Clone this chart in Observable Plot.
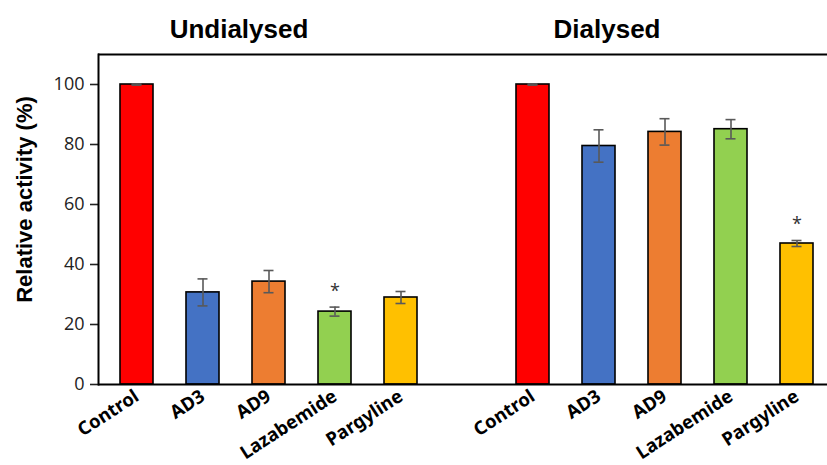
<!DOCTYPE html>
<html>
<head>
<meta charset="utf-8">
<script src="https://cdn.jsdelivr.net/npm/d3@7"></script>
<script src="https://cdn.jsdelivr.net/npm/@observablehq/plot@0.6"></script>
<style>
  html, body { margin: 0; padding: 0; background: #fff; }
</style>
</head>
<body>
<div id="chart"></div>
<script>
const groups = ["Undialysed", "Dialysed"];
const treatments = ["Control", "AD3", "AD9", "Lazabemide", "Pargyline"];
const undialysedMean = [100, 30.7, 34.3, 24.3, 29.0];
const undialysedErr  = [0.2, 4.5, 3.7, 1.5, 2.0];
const dialysedMean   = [100, 79.5, 84.2, 85.1, 47.0];
const dialysedErr    = [0.2, 5.4, 4.4, 3.2, 1.0];
const undialysedStar = [false, false, false, true, false];
const dialysedStar   = [false, false, false, false, true];
const barColors = ["#FF0000", "#4472C4", "#ED7D31", "#92D050", "#FFC000"];
const yTicks = [0, 20, 40, 60, 80, 100];

const rows = [];
groups.forEach((g, gi) => {
  const means = gi === 0 ? undialysedMean : dialysedMean;
  const errs = gi === 0 ? undialysedErr : dialysedErr;
  const stars = gi === 0 ? undialysedStar : dialysedStar;
  treatments.forEach((t, i) => {
    rows.push({key: g + "|" + t, group: g, treatment: t, mean: means[i], err: errs[i], star: stars[i], color: barColors[i]});
  });
});
const domain = [...treatments.map(t => groups[0] + "|" + t), "gap", ...treatments.map(t => groups[1] + "|" + t)];
const tickKeys = domain.filter(d => d !== "gap");

const chart = Plot.plot({
  width: 827,
  height: 465,
  marginTop: 54,
  marginBottom: 81,
  marginLeft: 98,
  marginRight: 0,
  style: {fontFamily: "'Open Sans', sans-serif", color: "#000", background: "#fff"},
  x: {type: "band", domain, range: [99.6, 834.4], paddingInner: 0.5, paddingOuter: 0.25, axis: null},
  y: {domain: [0, 110], axis: null},
  marks: [
    Plot.barY(rows, {x: "key", y: "mean", fill: "color", stroke: "#000", strokeWidth: 1.6}),
    Plot.ruleX(rows, {x: "key", y1: d => d.mean - d.err, y2: d => d.mean + d.err, stroke: "#595959", strokeWidth: 1.6}),
    Plot.tickY(rows, {x: "key", y: d => d.mean + d.err, stroke: "#595959", strokeWidth: 1.6, insetLeft: 11.5, insetRight: 11.5}),
    Plot.tickY(rows, {x: "key", y: d => d.mean - d.err, stroke: "#595959", strokeWidth: 1.6, insetLeft: 11.5, insetRight: 11.5}),
    Plot.text(rows.filter(d => d.star), {x: "key", y: d => d.mean + d.err, text: () => "*", dy: -16, fontSize: 18, fill: "#333"}),
    Plot.axisY({ticks: yTicks, tickSize: 8, tickPadding: 6, fontSize: 18, strokeWidth: 1.6, label: null, color: "#222"}),
    Plot.axisX({ticks: tickKeys, tickFormat: d => d.split("|")[1], tickSize: 0, tickPadding: 10, tickRotate: -33, fontSize: 18.5, fontWeight: "bold", fontFamily: "'Noto Sans', sans-serif", label: null, color: "#000"}),
    Plot.ruleY([0, 110], {stroke: "#000", strokeWidth: 2}),
    Plot.frame({anchor: "left", stroke: "#000", strokeWidth: 2}),
    Plot.text([groups[0]], {x: () => "Undialysed|AD9", frameAnchor: "top", dx: -30, dy: -17, lineAnchor: "bottom", text: d => d, fontSize: 26, fontWeight: "bold", fontFamily: "'Liberation Sans', Arial, sans-serif"}),
    Plot.text([groups[1]], {x: () => "Dialysed|AD3", frameAnchor: "top", dx: 8, dy: -17, lineAnchor: "bottom", text: d => d, fontSize: 26, fontWeight: "bold", fontFamily: "'Liberation Sans', Arial, sans-serif"}),
    Plot.text(["Relative activity (%)"], {frameAnchor: "left", textAnchor: "middle", dx: -74, dy: -20, rotate: -90, text: d => d, fontSize: 22, fontWeight: "bold", fontFamily: "'Liberation Sans', Arial, sans-serif"})
  ]
});
document.getElementById("chart").appendChild(chart);
</script>
</body>
</html>
